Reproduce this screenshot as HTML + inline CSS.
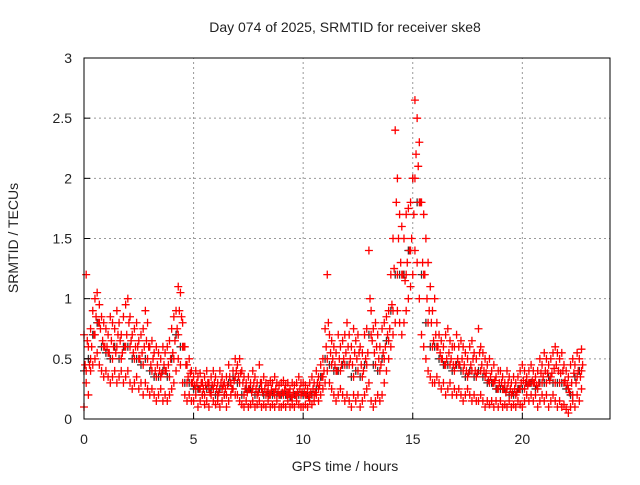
<!DOCTYPE html>
<html><head><meta charset="utf-8"><style>
body{margin:0;background:#fff;}
svg text{font-family:"Liberation Sans",sans-serif;font-size:14px;fill:#222;}
</style></head><body>
<svg id="chart" width="640" height="480" xmlns="http://www.w3.org/2000/svg">
<text x="345" y="32" text-anchor="middle">Day 074 of 2025, SRMTID for receiver ske8</text>
<text x="345" y="471" text-anchor="middle">GPS time / hours</text>
<text transform="translate(18,238) rotate(-90)" text-anchor="middle">SRMTID / TECUs</text>
<g id="grid"></g>
<g id="marks"></g>
<rect x="84" y="58" width="526" height="361" fill="none" stroke="#000" stroke-width="1"/>
<g id="ticks"></g>
</svg>
<script>
const xTicks=[0,5,10,15,20];
const yTicks=[0,0.5,1,1.5,2,2.5,3];
const yTickLabels=["0","0.5","1","1.5","2","2.5","3"];
const step=0.1;
const upper=[0.7,1.2,0.6,0.75,0.9,1.0,1.05,0.95,0.85,0.8,
0.75,0.7,0.85,0.8,0.75,0.9,0.8,0.7,0.85,0.95,
1.0,0.85,0.7,0.75,0.8,0.65,0.7,0.75,0.9,0.8,
0.6,0.65,0.55,0.6,0.55,0.5,0.6,0.55,0.6,0.65,
0.75,0.85,0.9,1.1,1.05,0.8,0.6,0.45,0.5,0.4,
0.35,0.4,0.35,0.38,0.3,0.35,0.4,0.3,0.35,0.4,
0.35,0.3,0.4,0.35,0.3,0.35,0.45,0.3,0.4,0.5,
0.45,0.5,0.4,0.35,0.3,0.35,0.3,0.4,0.35,0.3,
0.45,0.3,0.35,0.3,0.28,0.32,0.3,0.35,0.3,0.28,
0.3,0.32,0.28,0.3,0.25,0.3,0.28,0.3,0.35,0.3,
0.3,0.28,0.25,0.3,0.35,0.3,0.4,0.35,0.45,0.5,
0.75,1.2,0.7,0.65,0.6,0.55,0.7,0.6,0.65,0.7,
0.8,0.7,0.6,0.75,0.65,0.7,0.6,0.55,0.7,0.75,
1.4,0.9,0.75,0.8,0.7,0.6,0.75,0.8,0.85,0.9,
1.2,1.5,2.4,2.0,1.7,1.6,1.5,1.7,1.75,1.8,
2.0,2.65,2.5,2.3,1.8,1.7,1.5,1.3,1.1,0.9,
1.0,0.8,0.7,0.65,0.6,0.7,0.75,0.65,0.6,0.6,
0.7,0.6,0.65,0.6,0.55,0.5,0.6,0.65,0.55,0.5,
0.75,0.6,0.55,0.5,0.45,0.5,0.4,0.45,0.35,0.4,
0.4,0.35,0.3,0.4,0.35,0.3,0.35,0.3,0.35,0.4,
0.45,0.4,0.35,0.4,0.45,0.4,0.35,0.4,0.5,0.45,
0.55,0.5,0.45,0.5,0.55,0.6,0.55,0.5,0.55,0.45,
0.4,0.35,0.45,0.5,0.45,0.55,0.5,0.58];
const upperMid=[0.45,0.65,0.45,0.6,0.7,0.85,0.8,0.75,0.65,0.6,
0.6,0.55,0.65,0.6,0.55,0.7,0.65,0.55,0.6,0.7,
0.8,0.65,0.55,0.6,0.6,0.5,0.55,0.6,0.65,0.6,
0.45,0.5,0.4,0.45,0.4,0.38,0.45,0.4,0.45,0.5,
0.55,0.65,0.75,0.9,0.85,0.6,0.45,0.35,0.38,0.3,
0.28,0.3,0.25,0.3,0.25,0.28,0.3,0.22,0.28,0.3,
0.25,0.22,0.3,0.28,0.25,0.28,0.35,0.25,0.32,0.4,
0.35,0.38,0.3,0.25,0.22,0.25,0.22,0.3,0.25,0.22,
0.3,0.22,0.25,0.22,0.2,0.24,0.22,0.25,0.22,0.2,
0.22,0.24,0.2,0.22,0.18,0.22,0.2,0.22,0.25,0.22,
0.22,0.2,0.18,0.22,0.25,0.22,0.3,0.28,0.35,0.4,
0.6,0.8,0.55,0.5,0.45,0.4,0.5,0.45,0.5,0.55,
0.6,0.5,0.45,0.55,0.5,0.55,0.45,0.4,0.5,0.55,
1.0,0.65,0.55,0.6,0.5,0.45,0.55,0.6,0.7,0.75,
0.95,1.25,1.8,1.5,1.3,1.2,1.15,1.3,1.4,1.5,
1.7,2.2,2.1,1.8,1.3,1.2,1.0,0.9,0.8,0.65,
0.7,0.6,0.55,0.5,0.45,0.5,0.55,0.5,0.45,0.45,
0.5,0.45,0.5,0.45,0.4,0.38,0.45,0.5,0.4,0.38,
0.55,0.45,0.4,0.38,0.32,0.35,0.3,0.32,0.25,0.3,
0.3,0.25,0.22,0.3,0.25,0.22,0.25,0.22,0.25,0.3,
0.32,0.3,0.28,0.3,0.32,0.3,0.28,0.3,0.38,0.35,
0.4,0.38,0.32,0.38,0.42,0.45,0.4,0.38,0.4,0.32,
0.28,0.22,0.3,0.38,0.3,0.4,0.35,0.45];
const lower=[0.1,0.3,0.2,0.4,0.45,0.5,0.55,0.45,0.4,0.35,
0.4,0.35,0.3,0.35,0.4,0.3,0.35,0.4,0.3,0.35,
0.4,0.3,0.25,0.3,0.35,0.25,0.3,0.2,0.3,0.25,
0.2,0.25,0.2,0.15,0.2,0.25,0.15,0.2,0.15,0.2,
0.25,0.3,0.4,0.5,0.45,0.3,0.2,0.15,0.2,0.15,
0.15,0.2,0.1,0.15,0.2,0.12,0.15,0.1,0.2,0.15,
0.12,0.15,0.1,0.15,0.2,0.1,0.15,0.2,0.25,0.2,
0.2,0.15,0.12,0.1,0.15,0.1,0.12,0.15,0.1,0.12,
0.15,0.1,0.12,0.1,0.15,0.1,0.12,0.1,0.15,0.1,
0.1,0.12,0.1,0.15,0.1,0.12,0.1,0.15,0.12,0.1,
0.1,0.12,0.1,0.15,0.12,0.15,0.2,0.15,0.2,0.25,
0.3,0.4,0.3,0.25,0.2,0.15,0.2,0.25,0.2,0.15,
0.2,0.15,0.1,0.2,0.15,0.2,0.1,0.15,0.2,0.25,
0.3,0.15,0.1,0.15,0.2,0.15,0.2,0.3,0.4,0.5,
0.6,0.7,0.8,0.9,0.8,0.7,0.8,0.9,1.0,1.1,
1.2,1.4,1.3,1.0,0.7,0.6,0.5,0.4,0.35,0.3,
0.3,0.35,0.3,0.25,0.3,0.2,0.25,0.3,0.2,0.25,
0.2,0.25,0.2,0.15,0.2,0.25,0.2,0.15,0.2,0.15,
0.15,0.2,0.15,0.1,0.15,0.12,0.15,0.1,0.15,0.1,
0.15,0.1,0.12,0.1,0.15,0.1,0.12,0.1,0.15,0.12,
0.1,0.15,0.2,0.15,0.2,0.15,0.2,0.1,0.15,0.2,
0.15,0.2,0.1,0.15,0.2,0.15,0.1,0.15,0.1,0.12,
0.08,0.05,0.1,0.15,0.1,0.2,0.15,0.25];
const midStep=0.2;
const mid=[0.4,0.5,0.7,0.8,0.6, 0.55,0.5,0.6,0.5,0.6, 0.6,0.5,0.5,0.45,0.5,
0.4,0.35,0.35,0.4,0.35, 0.5,0.7,0.6,0.3,0.3, 0.25,0.25,0.2,0.25,0.25,
0.2,0.25,0.2,0.3,0.35, 0.3,0.2,0.25,0.25,0.2, 0.25,0.2,0.2,0.2,0.2,
0.2,0.2,0.18,0.2,0.2, 0.2,0.2,0.2,0.25,0.35, 0.5,0.45,0.4,0.4,0.45,
0.45,0.35,0.4,0.35,0.45, 0.7,0.45,0.4,0.5,0.65, 0.9,1.2,1.2,1.2,1.4,
2.0,1.8,1.2,0.8,0.6, 0.6,0.5,0.45,0.45,0.4, 0.45,0.4,0.35,0.4,0.35,
0.4,0.35,0.3,0.3,0.25, 0.25,0.25,0.2,0.2,0.25, 0.25,0.3,0.3,0.25,0.3,
0.3,0.35,0.3,0.3,0.3, 0.25,0.2,0.35,0.4];

const X0=84,X1=610,Y0=419,Y1=58;
function xs(v){return X0+v*(X1-X0)/24;}
function ys(v){return Y0-v*(Y0-Y1)/3;}
const NS="http://www.w3.org/2000/svg";
const grid=document.getElementById('grid'),ticks=document.getElementById('ticks'),marks=document.getElementById('marks');
function mk(tag,attrs,parent){const e=document.createElementNS(NS,tag);for(const k in attrs)e.setAttribute(k,attrs[k]);parent.appendChild(e);return e;}
xTicks.forEach(t=>{const x=xs(t);
 if(t>0){const g=mk('line',{x1:x,x2:x,y1:Y0,y2:Y1,stroke:'#999','stroke-dasharray':'2,3','stroke-width':1},grid);
 
 }
 const tk=mk('line',{x1:x,x2:x,y1:Y0,y2:Y0-6,stroke:'#000'},ticks);
 
 
 const tx=mk('text',{x:x,y:Y0+25,'text-anchor':'middle'},ticks);tx.textContent=String(t);
 
 
});
yTicks.forEach((t,i)=>{const y=ys(t);
 if(t>0&&t<3){const g=mk('line',{x1:X0,x2:X1,y1:y,y2:y,stroke:'#999','stroke-dasharray':'2,3','stroke-width':1},grid);
 
 }
 const tk=mk('line',{x1:X0,x2:X0+6,y1:y,y2:y,stroke:'#000'},ticks);
 
 
 const tx=mk('text',{x:X0-12,y:y+5,'text-anchor':'end'},ticks);tx.textContent=yTickLabels[i];
 
 
});
function plus(t,v,color,name){const x=xs(t),y=ys(v);
 const p=mk('path',{d:`M${x-4},${y}H${x+4}M${x},${y-4}V${y+4}`,stroke:color,'stroke-width':1.3,fill:'none'},marks);
 
 }
mid.forEach((v,i)=>plus(i*midStep,v,'#333','point-black'));
upper.forEach((v,i)=>plus(i*step,v,'#f00','point-red'));
upperMid.forEach((v,i)=>plus(i*step+0.05,v,'#f00','point-red'));
lower.forEach((v,i)=>plus(i*step,v,'#f00','point-red'));
mid.forEach((v,i)=>plus(i*midStep+0.1,v,'#f00','point-red'));
</script>
</body></html>
